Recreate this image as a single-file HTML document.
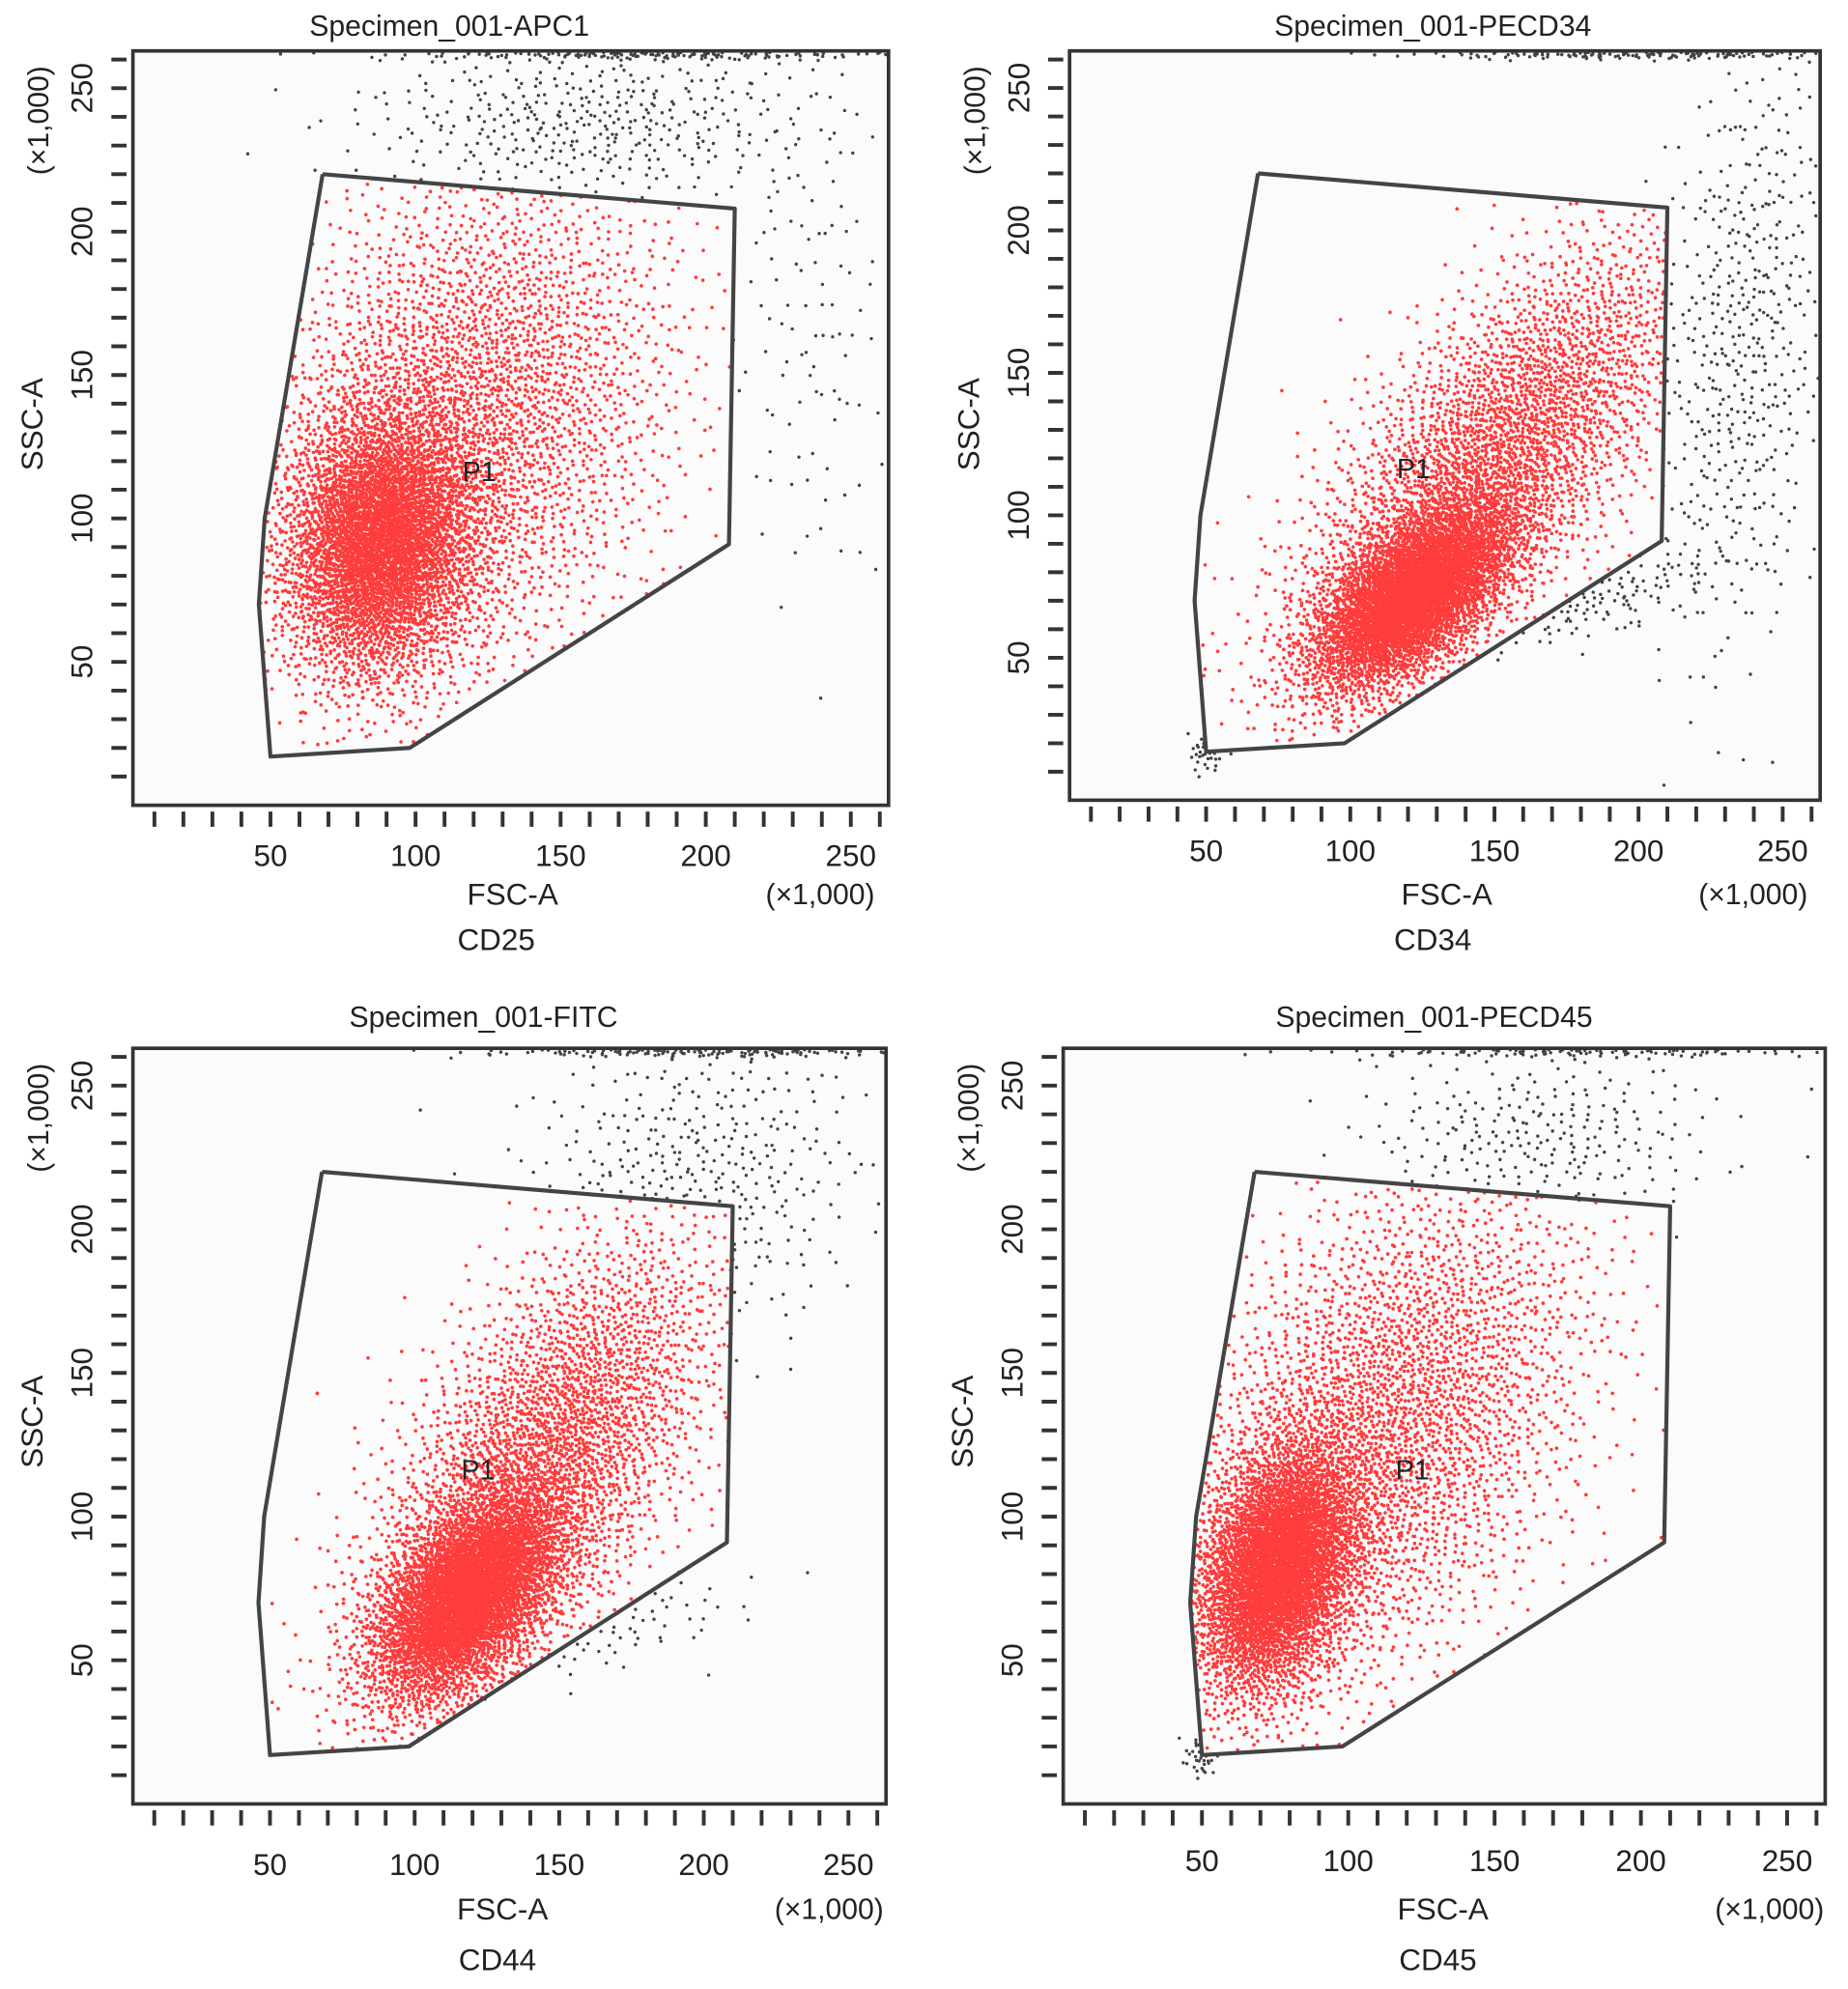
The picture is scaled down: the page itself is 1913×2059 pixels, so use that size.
<!DOCTYPE html>
<html><head><meta charset="utf-8">
<style>
html,body{margin:0;padding:0;background:#fff;}
svg{display:block;}
text{font-family:"Liberation Sans",Arial,sans-serif;fill:#222;}
</style></head>
<body>
<svg id="fig" width="1913" height="2059" viewBox="0 0 1460 1571" xmlns="http://www.w3.org/2000/svg"></svg>
<script>
// ---- data ----
const panelTitles = ["Specimen_001-APC1","Specimen_001-PECD34","Specimen_001-FITC","Specimen_001-PECD45"];
const markerLabels = ["CD25","CD34","CD44","CD45"];
const xTickLabels = [50,100,150,200,250];
const yTickLabels = [50,100,150,200,250];
const gateX = [68,210,208,98,50,46,48,68];
const gateY = [220,208,91,20,17,70,100,220];
// population clusters per panel: [centerX, centerY, sdX, sdY, corr, count, inGate(1=red,0=black)]
const clustersCD25 = [[88,92,17,24,0.1,4200,1],[118,135,35,45,0.2,3200,1],[160,238,40,14,0,420,0],[237,170,15,50,0,110,0],[185,262,45,1,0,220,0]];
const clustersCD34 = [[122,72,18,17,0.6,4300,1],[150,120,35,40,0.7,3400,1],[236,160,16,55,0.3,520,0],[185,70,25,10,0.8,140,0],[50,17,3,4,0,40,0],[200,262,40,1,0,200,0]];
const clustersCD44 = [[118,72,17,19,0.5,4300,1],[145,120,30,40,0.6,3200,1],[195,215,30,30,0.2,480,0],[170,60,25,10,0.7,70,0],[200,262,40,1,0,200,0]];
const clustersCD45 = [[76,82,14,22,0.3,4300,1],[112,130,35,45,0.4,3300,1],[165,232,30,15,0,260,0],[50,17,3,4,0,40,0],[180,262,45,1,0,160,0]];
const panelClusters = [clustersCD25,clustersCD34,clustersCD44,clustersCD45];
const xDomain = [2.6,263];
const yDomain = [0,263];

// ---- layout (display units) ----
const boxes = [
 {l:105,r:702,t:40,b:636,tx:355,ty:20,tickY:676,fscX:405,fscY:706,mulX:648,cdX:392,cdY:742},
 {l:845,r:1438,t:40,b:632,tx:1132,ty:20,tickY:672,fscX:1143,fscY:706,mulX:1385,cdX:1132,cdY:742},
 {l:105,r:700,t:828,b:1425,tx:382,ty:803,tickY:1473,fscX:397,fscY:1508,mulX:655,cdX:393,cdY:1548},
 {l:840,r:1442,t:828,b:1425,tx:1133,ty:803,tickY:1470,fscX:1140,fscY:1508,mulX:1398,cdX:1136,cdY:1548}
];
const NS="http://www.w3.org/2000/svg";
const svg=document.getElementById('fig');
function mk(tag,attrs,parent){const e=document.createElementNS(NS,tag);for(const k in attrs)e.setAttribute(k,attrs[k]);(parent||svg).appendChild(e);return e;}
function halton(i,b){let f=1,r=0;while(i>0){f/=b;r+=f*(i%b);i=Math.floor(i/b);}return r;}
function inPoly(x,y){let c=false;for(let i=0,j=gateX.length-1;i<gateX.length;j=i++){const xi=gateX[i],yi=gateY[i],xj=gateX[j],yj=gateY[j];if(((yi>y)!=(yj>y))&&(x<(xj-xi)*(y-yi)/(yj-yi)+xi))c=!c;}return c;}

boxes.forEach((B,p)=>{
  const g=mk('g',{});
  
  
  const sx=v=>B.l+(v-xDomain[0])/(xDomain[1]-xDomain[0])*(B.r-B.l);
  const sy=v=>B.b-(v-yDomain[0])/(yDomain[1]-yDomain[0])*(B.b-B.t);
  const bg=mk('rect',{x:B.l,y:B.t,width:B.r-B.l,height:B.b-B.t,fill:'#fbfbfb'},g);
  
  
  let red='',blk='';let idx=1+p*50000;
  panelClusters[p].forEach(c=>{
    const [cx,cy,sdx,sdy,rho,n,ing]=c;
    for(let k=0;k<n;k++){
      idx++;
      const u1=Math.max(1e-6,halton(idx,2)),u2=halton(idx,3);
      const R=Math.sqrt(-2*Math.log(u1));
      const z1=R*Math.cos(2*Math.PI*u2),z2=R*Math.sin(2*Math.PI*u2);
      const x=cx+sdx*z1, y=cy+sdy*(rho*z1+Math.sqrt(1-rho*rho)*z2);
      if(x<xDomain[0]||x>xDomain[1]-0.5||y<3||y>yDomain[1]-0.5)continue;
      const inside=inPoly(x,y);
      if(ing&&!inside)continue;
      if(!ing&&inside)continue;
      const s='M'+sx(x).toFixed(1)+' '+sy(y).toFixed(1)+'h0';
      if(ing)red+=s;else blk+=s;
    }
  });
  const rp=mk('path',{d:red,stroke:'#ff0d0d','stroke-opacity':0.8,'stroke-width':2.8,'stroke-linecap':'round',fill:'none'},g);
  
  
  const bp=mk('path',{d:blk,stroke:'#222','stroke-opacity':0.85,'stroke-width':2.6,'stroke-linecap':'round',fill:'none'},g);
  
  
  let gd='';gateX.forEach((gx,i)=>{gd+=(i?'L':'M')+sx(gx).toFixed(1)+' '+sy(gateY[i]).toFixed(1);});
  const gp=mk('path',{d:gd,stroke:'#444','stroke-width':3.2,fill:'none','stroke-linejoin':'round'},g);
  
  
  const pl=mk('text',{x:sx(122),y:sy(113),'font-size':22,'text-anchor':'middle'},g);pl.textContent='P1';
  
  
  const bx=mk('rect',{x:B.l,y:B.t,width:B.r-B.l,height:B.b-B.t,fill:'none',stroke:'#333','stroke-width':2.8},g);
  
  
  let td='';
  for(let v=10;v<=260;v+=10){const X=sx(v);td+='M'+X.toFixed(1)+' '+(B.b+5)+'v12';const Y=sy(v);td+='M'+(B.l-17)+' '+Y.toFixed(1)+'h12';}
  const tp=mk('path',{d:td,stroke:'#333','stroke-width':3},g);
  
  
  xTickLabels.forEach(v=>{const t=mk('text',{x:sx(v),y:B.tickY+8,'font-size':24,'text-anchor':'middle'},g);t.textContent=v;
    
    });
  yTickLabels.forEach(v=>{const X=B.l-40,Y=sy(v);const t=mk('text',{x:X,y:Y,'font-size':24,'text-anchor':'middle',transform:'rotate(-90 '+X+' '+Y+')',dy:8},g);t.textContent=v;
    
    });
  const addT=(txt,x,y,fs,name,rot)=>{const t=mk('text',{x:x,y:y,'font-size':fs,'text-anchor':'middle',dy:fs*0.35},g);if(rot)t.setAttribute('transform','rotate(-90 '+x+' '+y+')');t.textContent=txt;
    
    return t;};
  addT(panelTitles[p],B.tx,B.ty,23,'panel-title');
  addT('SSC-A',B.l-80,B.t+295,24,'y-axis-title',true);
  addT('(\u00d71,000)',B.l-75,B.t+55,23,'y-axis-multiplier',true);
  addT('FSC-A',B.fscX,B.fscY,24,'x-axis-title');
  addT('(\u00d71,000)',B.mulX,B.fscY,23,'x-axis-multiplier');
  addT(markerLabels[p],B.cdX,B.cdY,24,'marker-label');
});
</script>
</body></html>
